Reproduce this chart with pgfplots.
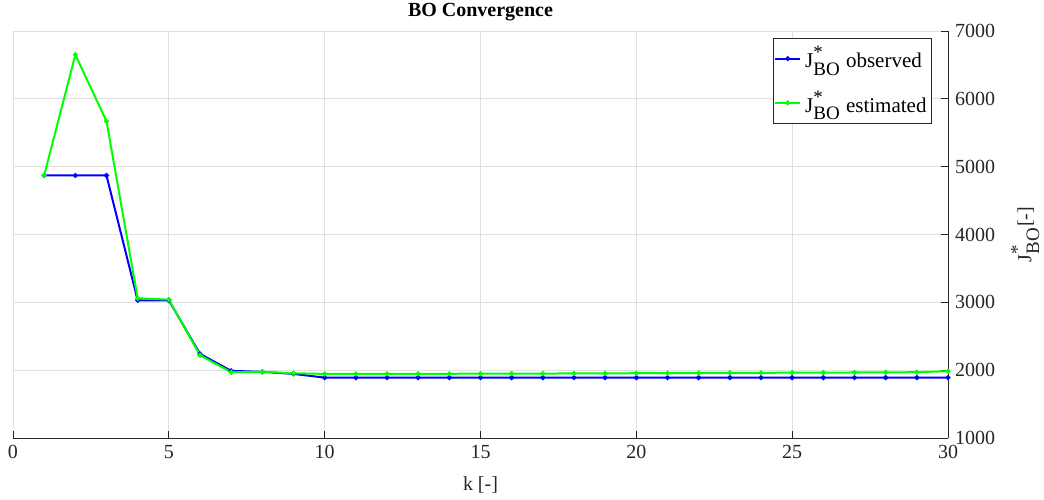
\documentclass[border=0pt]{standalone}
\usepackage{fontspec}
\setmainfont{Liberation Serif}
\usepackage{amsmath}
\usepackage{pgfplots}
\pgfplotsset{compat=1.18}
\definecolor{axisgray}{HTML}{262626}
\definecolor{gridgray}{HTML}{E0E0E0}
\definecolor{obsblue}{RGB}{0,0,255}
\definecolor{estgreen}{RGB}{0,255,0}
\newcommand{\Jbo}{$\text{J}^{\text{\fontsize{9.5}{10}\selectfont *}}_{\text{\fontsize{9.5}{10}\selectfont BO}}$}

\begin{document}
\begin{tikzpicture}
\useasboundingbox (-6.5pt,-30.5pt) rectangle (515.5pt,219pt);
\begin{axis}[
  scale only axis, width=467.5pt, height=203.5pt,
  xmin=0, xmax=30, ymin=1000, ymax=7000,
  xtick={0,5,...,30}, ytick={1000,2000,...,7000},
  axis x line*=bottom, axis y line*=right,
  axis line style={axisgray, line width=0.5pt},
  tick style={axisgray, line width=0.5pt},
  tick align=inside, major tick length=3.5pt,
  grid=major, grid style={gridgray, line width=0.5pt},
  every tick label/.append style={font=\fontsize{10}{12}\selectfont, text=axisgray},
  /pgf/number format/assume math mode=true,
  /pgf/number format/1000 sep={},
  title={\textbf{BO Convergence}},
  title style={at={(axis description cs:0.5,1.0172)}, anchor=center,
               font=\fontsize{10}{12}\selectfont, text=black},
  xlabel={k [-]},
  xlabel style={at={(axis description cs:0.5,-0.1155)}, anchor=center,
                font=\fontsize{10}{12}\selectfont, text=axisgray},
  ylabel={\Jbo[-]},
  ylabel style={at={(axis description cs:1.0824,0.5)}, anchor=center,
                font=\fontsize{10}{12}\selectfont, text=axisgray},
  legend style={at={(axis description cs:0.9829,0.9828)}, anchor=north east,
                draw=axisgray, line width=0.5pt, fill=white,
                font=\fontsize{10.5}{12}\selectfont, inner xsep=0.5pt, inner ysep=2pt,
                row sep=6pt, cells={anchor=west}},
  legend image code/.code={%
    \draw[mark repeat=2, mark phase=2, line width=1pt, #1]
      plot coordinates {(0cm,0cm) (0.22cm,0cm) (0.44cm,0cm)};},
]
\addplot[obsblue, line width=1pt, mark=*, mark size=0.7pt] coordinates {
  (1,4870) (2,4870) (3,4870) (4,3030) (5,3030) (6,2240) (7,1990) (8,1975)
  (9,1945) (10,1890) (11,1890) (12,1890) (13,1890) (14,1890) (15,1890)
  (16,1890) (17,1890) (18,1890) (19,1890) (20,1890) (21,1890) (22,1890)
  (23,1890) (24,1890) (25,1890) (26,1890) (27,1890) (28,1890) (29,1890)
  (30,1890)
};
\addlegendentry{\Jbo{} observed}
\addplot[estgreen, line width=1pt, mark=*, mark size=0.7pt] coordinates {
  (1,4870) (2,6650) (3,5670) (4,3060) (5,3040) (6,2220) (7,1970) (8,1975)
  (9,1955) (10,1945) (11,1945) (12,1945) (13,1946) (14,1947) (15,1948)
  (16,1949) (17,1950) (18,1952) (19,1953) (20,1955) (21,1956) (22,1958)
  (23,1960) (24,1961) (25,1963) (26,1964) (27,1966) (28,1968) (29,1970)
  (30,1985)
};
\addlegendentry{\Jbo{} estimated}
\end{axis}
\end{tikzpicture}
\end{document}
